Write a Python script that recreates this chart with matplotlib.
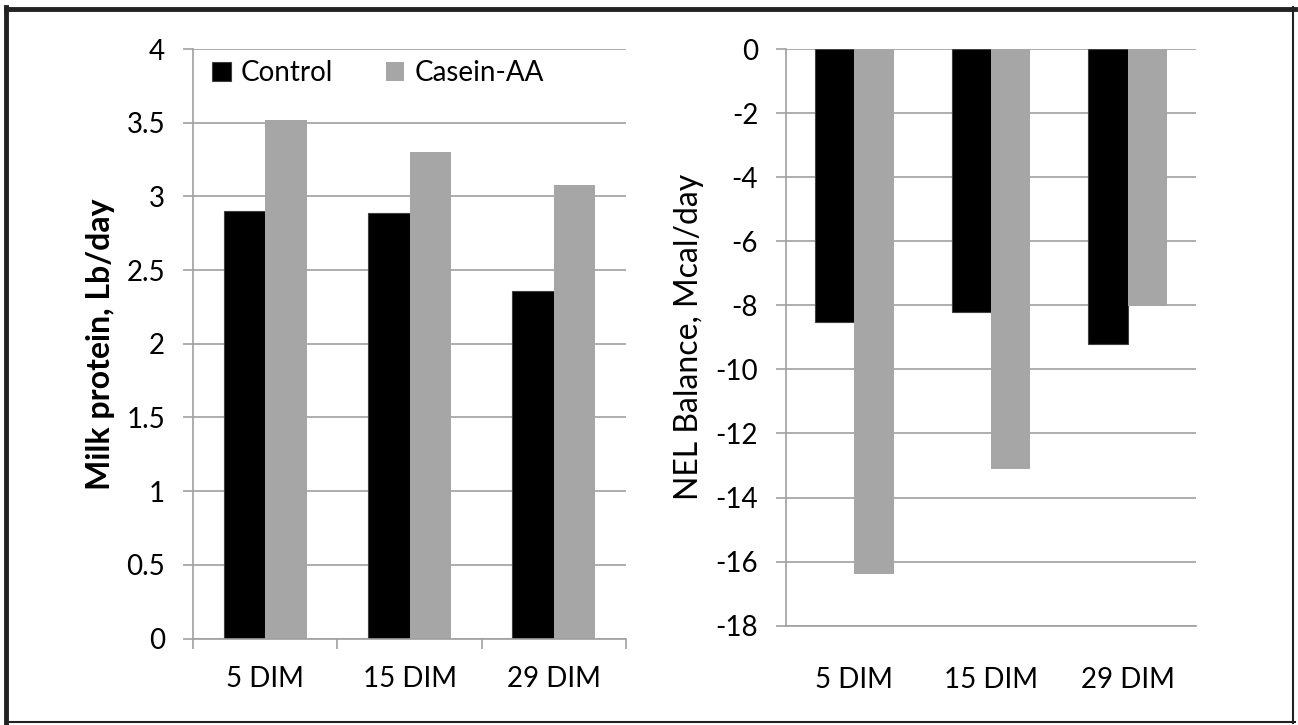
import numpy as np
import matplotlib
matplotlib.use("Agg")
import matplotlib.pyplot as plt
from matplotlib.lines import Line2D

plt.rcParams['font.family'] = ['Lato', 'DejaVu Sans']
plt.rcParams['axes.unicode_minus'] = False

days = ["5 DIM", "15 DIM", "29 DIM"]
protein_control = [2.90, 2.89, 2.36]
protein_casein = [3.52, 3.30, 3.08]
nel_control = [-8.52, -8.21, -9.21]
nel_casein = [-16.38, -13.11, -8.02]

black = "#000000"
grey = "#A6A6A6"
gridc = "#A0A0A0"

fig = plt.figure(figsize=(12.98, 7.25), dpi=100)
ax1 = fig.add_axes([0.1487, 0.1192, 0.3336, 0.8132])
ax2 = fig.add_axes([0.6055, 0.1370, 0.3159, 0.7954])

x = np.arange(len(days))
w = 0.287

def style(ax):
    ax.set_axisbelow(True)
    ax.yaxis.grid(True, color=gridc, linewidth=1.2)
    for s in ["top", "right"]:
        ax.spines[s].set_visible(False)
    ax.spines["left"].set_color(gridc)
    ax.spines["bottom"].set_color(gridc)
    ax.spines["left"].set_linewidth(1.2)
    ax.spines["bottom"].set_linewidth(1.2)
    ax.tick_params(axis="y", length=7, width=1.2, color=gridc, pad=13, labelsize=20)
    ax.set_xlim(-0.5, 2.5)

# left: milk protein
ax1.bar(x - w / 2, protein_control, w, color=black, edgecolor="#404040", linewidth=0.8, label="Control")
ax1.bar(x + w / 2, protein_casein, w, color=grey, label="Casein-AA")
style(ax1)
ax1.set_ylim(0, 4)
ax1.set_yticks(np.arange(0, 4.01, 0.5))
ax1.set_yticklabels(["0", "0.5", "1", "1.5", "2", "2.5", "3", "3.5", "4"])
ax1.set_xticks(x)
ax1.set_xticklabels(days)
ax1.set_xticks([-0.5, 0.5, 1.5, 2.5], minor=True)
ax1.tick_params(axis="x", which="major", length=0, pad=20, labelsize=20)
ax1.tick_params(axis="x", which="minor", length=7, width=1.2, color=gridc)
ax1.set_ylabel("Milk protein, Lb/day", fontsize=23, fontweight="bold", labelpad=8)
ax1.legend(loc="upper left", ncol=2, frameon=False, fontsize=20, handlelength=0.68,
           handleheight=0.68, handletextpad=0.35, columnspacing=1.9,
           bbox_to_anchor=(0.005, 1.01), borderaxespad=0.2)

# right: NEL balance
ax2.bar(x - w / 2, nel_control, w, color=black, edgecolor="#404040", linewidth=0.8)
ax2.bar(x + w / 2, nel_casein, w, color=grey)
style(ax2)
ax2.set_ylim(-18, 0)
ax2.set_yticks(np.arange(-18, 0.1, 2))
ax2.set_xticks(x)
ax2.set_xticklabels(days)
ax2.tick_params(axis="x", length=0, pad=30, labelsize=20)
ax2.set_ylabel("NEL Balance, Mcal/day", fontsize=23, labelpad=8)

# outer frame
fig.add_artist(Line2D([0.0050, 0.0050], [0.003, 0.990], color="#222222", linewidth=3.5, transform=fig.transFigure))
fig.add_artist(Line2D([0.0050, 0.9975], [0.988, 0.988], color="#222222", linewidth=3.5, transform=fig.transFigure))
fig.add_artist(Line2D([0.9965, 0.9965], [0.003, 0.990], color="#222222", linewidth=1.5, transform=fig.transFigure))
fig.add_artist(Line2D([0.0050, 0.9975], [0.0035, 0.0035], color="#222222", linewidth=1.5, transform=fig.transFigure))

fig.savefig("out.png", dpi=100)
